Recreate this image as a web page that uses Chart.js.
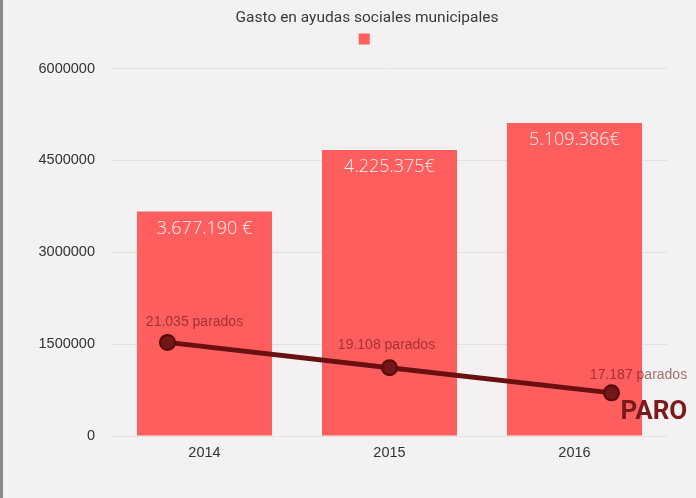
<!DOCTYPE html>
<html>
<head>
<meta charset="utf-8">
<script src="https://cdn.jsdelivr.net/npm/chart.js@4.4.0/dist/chart.umd.min.js"></script>
<style>
  html, body { margin: 0; padding: 0; background: #f3f1f1; }
  #wrap { position: relative; width: 696px; height: 498px; background: #f3f1f1; }
  #borde { position: absolute; left: 0; top: 0; width: 3px; height: 498px; background: #8a8a8a; }
</style>
</head>
<body>
<div id="wrap">
  <canvas id="gastoChart"></canvas>
  <div id="borde"></div>
</div>
<script>
const anios = ['2014', '2015', '2016'];
const gasto = [3665000, 4670000, 5110000];
const etiquetasGasto = ['3.677.190 €', '4.225.375€', '5.109.386€'];
const parados = [21035, 19108, 17187];
const ticksY = [0, 1500000, 3000000, 4500000, 6000000];

function formatoMiles(n) {
  return n.toString().replace(/\B(?=(\d{3})+(?!\d))/g, '.');
}

// etiquetas sobre barras y puntos
const etiquetasPlugin = {
  id: 'etiquetas',
  afterDatasetsDraw(chart) {
    const ctx = chart.ctx;
    const barras = chart.getDatasetMeta(0).data;
    const puntos = chart.getDatasetMeta(1).data;
    ctx.save();
    ctx.textBaseline = 'middle';
    ctx.textAlign = 'center';
    ctx.font = '300 18px "Open Sans", "Liberation Sans", sans-serif';
    ctx.fillStyle = 'rgba(255, 255, 255, 0.92)';
    barras.forEach((bar, i) => {
      ctx.fillText(etiquetasGasto[i], bar.x, bar.y + 17);
    });

    const dx = [27, -3, 27];
    const dy = [-20, -23, -18];
    ctx.font = '14px "Liberation Sans", Arial, sans-serif';
    ctx.fillStyle = 'rgba(100, 20, 20, 0.6)';
    puntos.forEach((p, i) => {
      ctx.fillText(formatoMiles(parados[i]) + ' parados', p.x + dx[i], p.y + dy[i]);
    });

    const ultimo = puntos[puntos.length - 1];
    ctx.textAlign = 'left';
    ctx.font = 'bold 26px Roboto, sans-serif';
    ctx.fillStyle = '#7a1a1a';
    ctx.fillText(chart.data.datasets[1].label, ultimo.x + 9, ultimo.y + 20);
    ctx.restore();
  }
};

const ctx = document.getElementById('gastoChart').getContext('2d');

const gastoChart = new Chart(ctx, {
  type: 'bar',
  data: {
    labels: anios,
    datasets: [{
      label: '',
      data: gasto,
      backgroundColor: '#ff5e5e',
      barPercentage: 0.73,
      categoryPercentage: 1,
      grouped: false,
      order: 1
    }, {
      type: 'line',
      label: 'PARO',
      data: parados.map((v, i) => ({ x: i, y: v })),
      xAxisID: 'x2',
      yAxisID: 'y2',
      borderColor: '#6a1010',
      borderWidth: 5,
      pointRadius: 7.5,
      pointBackgroundColor: '#731616',
      pointBorderColor: '#560a0a',
      pointBorderWidth: 2,
      tension: 0,
      order: 0
    }]
  },
  options: {
    responsive: true,
    maintainAspectRatio: false,
    animation: false,
    layout: {
      padding: { left: 38, right: 0, top: 0, bottom: 37 }
    },
    scales: {
      x: {
        afterFit: s => { s.height = 25; },
        grid: { display: false, drawTicks: false },
        border: { display: false },
        ticks: {
          color: '#333',
          padding: 8,
          font: { family: '"Liberation Sans", Arial, sans-serif', size: 14.5 }
        }
      },
      y: {
        min: 0,
        max: 6000000,
        afterBuildTicks: s => { s.ticks = ticksY.map(v => ({ value: v })); },
        afterFit: s => { s.width = 74; },
        grid: { color: '#e2e0e0', drawTicks: false },
        border: { display: false },
        ticks: {
          color: '#333',
          padding: 17,
          callback: v => v,
          font: { family: '"Liberation Sans", Arial, sans-serif', size: 14.5 }
        }
      },
      x2: {
        type: 'linear',
        position: 'top',
        offset: false,
        min: -0.25,
        max: 2.25,
        afterFit: s => { s.height = 14; },
        grid: { display: false, drawTicks: false },
        border: { display: false },
        ticks: { display: false }
      },
      y2: {
        type: 'linear',
        position: 'right',
        min: 13900,
        max: 41900,
        afterFit: s => { s.width = 29; },
        grid: { display: false, drawTicks: false },
        border: { display: false },
        ticks: { display: false }
      }
    },
    plugins: {
      title: {
        display: true,
        text: 'Gasto en ayudas sociales municipales',
        color: '#3a3a3a',
        font: { family: 'Roboto, sans-serif', size: 15.5, weight: 'normal' },
        padding: { top: 9, bottom: 2 }
      },
      legend: {
        display: true,
        position: 'top',
        labels: {
          boxWidth: 11,
          boxHeight: 11,
          padding: 4,
          font: { size: 11 },
          filter: item => item.datasetIndex === 0
        }
      },
      tooltip: { enabled: false }
    }
  },
  plugins: [etiquetasPlugin]
});
</script>
</body>
</html>
